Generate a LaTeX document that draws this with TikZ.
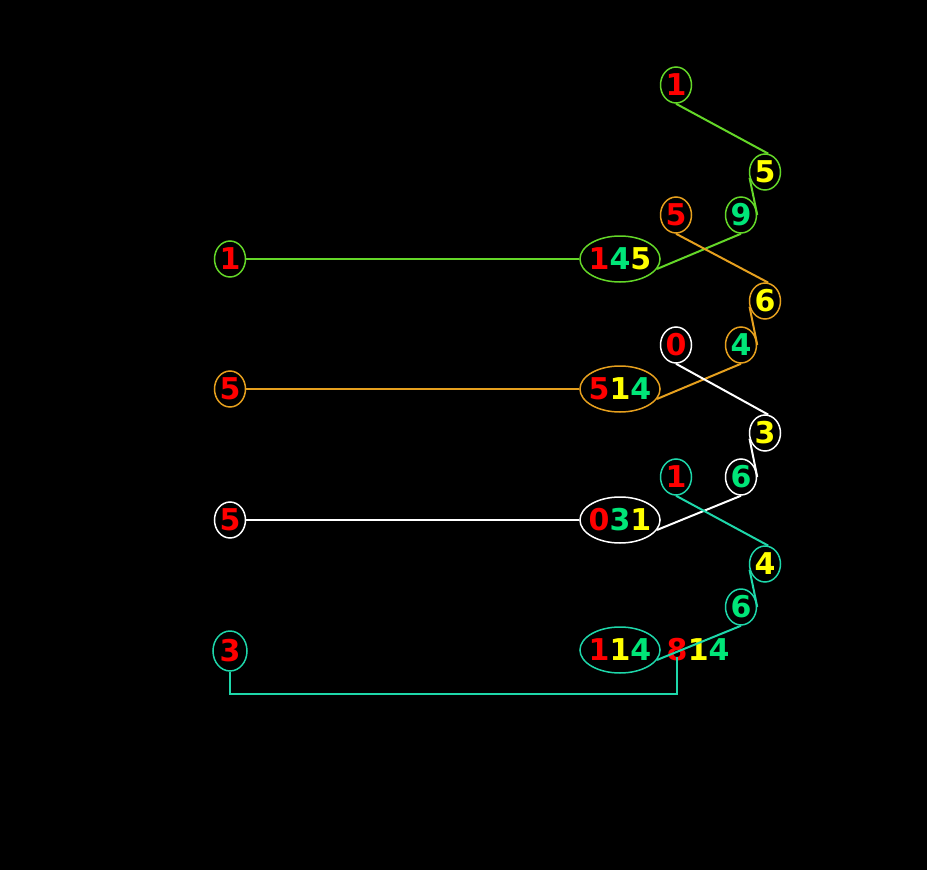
\documentclass[tikz,border=0pt]{standalone}
\usepackage{fontspec}
\setmainfont{DejaVu Sans}
\definecolor{digred}{RGB}{255,0,0}
\definecolor{digyel}{RGB}{255,255,0}
\definecolor{diggrn}{RGB}{0,230,120}
\definecolor{lgreen}{RGB}{100,215,40}
\definecolor{lorange}{RGB}{230,160,30}
\definecolor{lcyan}{RGB}{30,215,170}
\usetikzlibrary{shapes.geometric,positioning}

\begin{document}
\begin{tikzpicture}[x=1pt,y=-1pt,font=\bfseries\fontsize{30}{32}\selectfont,
        small/.style={ellipse,draw,line width=1.5pt,inner sep=0pt,minimum width=31pt,minimum height=36pt},
        bigel/.style={ellipse,draw,line width=1.5pt,inner sep=0pt,inner xsep=-3pt,minimum height=46pt},
        wire/.style={line width=2pt}]
        \useasboundingbox[fill=black] (0,0) rectangle (927,870);
        % first chain
        \node[small,lgreen] (a1) at (676,85) {\textcolor{digred}{1}};
        \node[small,lgreen] (a2) at (765,172) {\textcolor{digyel}{5}};
        \node[small,lgreen] (a3) at (741,215) {\textcolor{diggrn}{9}};
        \node[bigel,lgreen] (ab) at (620,259) {\textcolor{digred}{1}\textcolor{diggrn}{4}\textcolor{digyel}{5}};
        \node[small,lgreen] (al) at (230,259) {\textcolor{digred}{1}};
        \draw[wire,lgreen] (a1.south) -- (a2.80);
        \draw[wire,lgreen] (a2.200) -- (a3.east);
        \draw[wire,lgreen] (a3.south) -- (ab.345);
        \draw[wire,lgreen] (al.east) -- (ab.west);
        % second chain
        \node[small,lorange] (b1) at (676,215) {\textcolor{digred}{5}};
        \node[small,lorange] (b2) at (765,301) {\textcolor{digyel}{6}};
        \node[small,lorange] (b3) at (741,345) {\textcolor{diggrn}{4}};
        \node[bigel,lorange] (bb) at (620,389) {\textcolor{digred}{5}\textcolor{digyel}{1}\textcolor{diggrn}{4}};
        \node[small,lorange] (bl) at (230,389) {\textcolor{digred}{5}};
        \draw[wire,lorange] (b1.south) -- (b2.80);
        \draw[wire,lorange] (b2.200) -- (b3.east);
        \draw[wire,lorange] (b3.south) -- (bb.345);
        \draw[wire,lorange] (bl.east) -- (bb.west);
        % third chain
        \node[small,white] (c1) at (676,345) {\textcolor{digred}{0}};
        \node[small,white] (c2) at (765,433) {\textcolor{digyel}{3}};
        \node[small,white] (c3) at (741,477) {\textcolor{diggrn}{6}};
        \node[bigel,white] (cb) at (620,520) {\textcolor{digred}{0}\textcolor{diggrn}{3}\textcolor{digyel}{1}};
        \node[small,white] (cl) at (230,520) {\textcolor{digred}{5}};
        \draw[wire,white] (c1.south) -- (c2.80);
        \draw[wire,white] (c2.200) -- (c3.east);
        \draw[wire,white] (c3.south) -- (cb.345);
        \draw[wire,white] (cl.east) -- (cb.west);
        % fourth chain
        \node[small,lcyan] (d1) at (676,477) {\textcolor{digred}{1}};
        \node[small,lcyan] (d2) at (765,564) {\textcolor{digyel}{4}};
        \node[small,lcyan] (d3) at (741,607) {\textcolor{diggrn}{6}};
        \node[bigel,lcyan] (db) at (620,650) {\textcolor{digred}{1}\textcolor{digyel}{1}\textcolor{diggrn}{4}};
        \node[small,lcyan,minimum width=34pt,minimum height=40pt] (dl) at (230,651) {\textcolor{digred}{3}};
        \node[inner sep=0pt,digred] (d8) at (677,650) {8};
        \node[inner sep=0pt,right=0pt of d8] (d14) {\textcolor{digyel}{1}\textcolor{diggrn}{4}};
        \draw[wire,lcyan] (d1.south) -- (d2.80);
        \draw[wire,lcyan] (d2.200) -- (d3.east);
        \draw[wire,lcyan] (d3.south) -- (db.345);
        \draw[wire,lcyan] (dl.south) -- ++(0,22) -| ([yshift=5pt]d8.south);
      \end{tikzpicture}
\end{document}
